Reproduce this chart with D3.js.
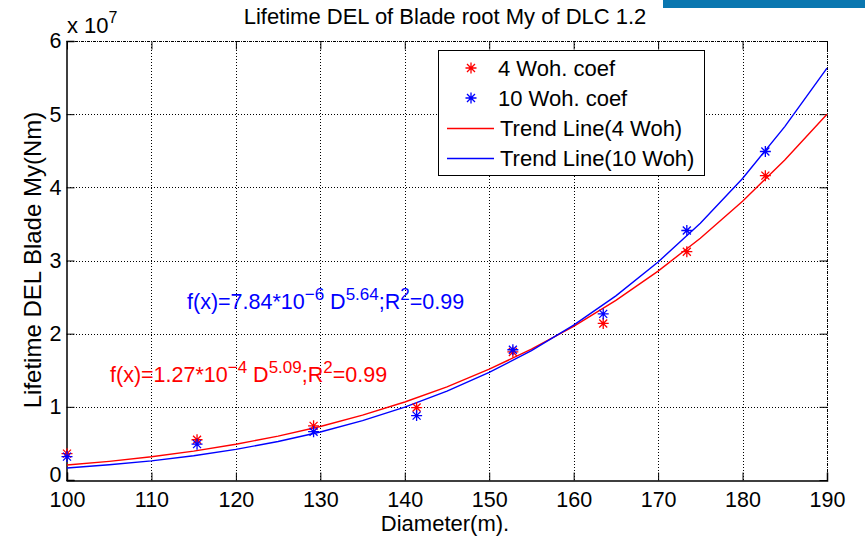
<html>
<head>
<style>
  body { margin: 0; background: #fff; }
  svg { font-family: "Liberation Sans", Arial, sans-serif; }
</style>
</head>
<body>
<svg id="chart" width="865" height="538"></svg>
<script src="https://cdn.jsdelivr.net/npm/d3@7"></script>
<script>
// measured points (Nm)
const diam = [100, 115.4, 129.2, 141.4, 152.8, 163.5, 173.4, 182.7]
const woh4 = [3.6e6, 5.5e6, 7.4e6, 9.9e6, 1.75e7, 2.14e7, 3.12e7, 4.16e7]
const woh10 = [3.2e6, 4.9e6, 6.6e6, 8.8e6, 1.78e7, 2.27e7, 3.41e7, 4.49e7]

// trend lines as drawn (polyline, every 5 m)
const trendD = [100, 105, 110, 115, 120, 125, 130, 135, 140, 145, 150, 155, 160, 165, 170, 175, 180, 185, 190]
const trend4 = [2.05e6, 2.55e6, 3.17e6, 3.94e6, 4.88e6, 6.0e6, 7.31e6, 8.86e6, 1.066e7, 1.274e7, 1.514e7,
                1.788e7, 2.10e7, 2.455e7, 2.855e7, 3.305e7, 3.81e7, 4.375e7, 5.0e7]
const trend10 = [1.65e6, 2.08e6, 2.62e6, 3.32e6, 4.19e6, 5.26e6, 6.56e6, 8.12e6, 9.97e6, 1.215e7, 1.470e7,
                 1.769e7, 2.116e7, 2.517e7, 2.98e7, 3.51e7, 4.12e7, 4.83e7, 5.63e7]

const xTicks = [100, 110, 120, 130, 140, 150, 160, 170, 180, 190]
const yTicks = [0, 1e7, 2e7, 3e7, 4e7, 5e7, 6e7]

const pLeft = 67, pRight = 827, pTop = 41, pBottom = 480
const fs = 22

let svg = d3.select("#chart")

let x = d3.scaleLinear().domain([100, 190]).range([pLeft, pRight])
let y = d3.scaleLinear().domain([0, 6e7]).range([pBottom, pTop])

// blue strip top right
svg.append("rect").attr("x", 663).attr("y", 0).attr("width", 202).attr("height", 8).attr("fill", "#0a77b0")

// grid
let grid = svg.append("g").attr("stroke", "#000").attr("stroke-width", 1).attr("stroke-dasharray", "1,2")
grid.selectAll(".gx").data(xTicks.slice(1)).enter().append("line")
  .attr("x1", d => Math.round(x(d)) + 0.5).attr("x2", d => Math.round(x(d)) + 0.5)
  .attr("y1", pTop).attr("y2", pBottom)
grid.selectAll(".gy").data(yTicks.slice(1)).enter().append("line")
  .attr("y1", d => Math.round(y(d)) + 0.5).attr("y2", d => Math.round(y(d)) + 0.5)
  .attr("x1", pLeft).attr("x2", pRight)

// axes
let xAxis = d3.axisBottom(x).tickValues(xTicks).tickSize(-8).tickPadding(11).tickFormat(d3.format("d"))
let yAxis = d3.axisLeft(y).tickValues(yTicks).tickSize(-8).tickPadding(5).tickFormat(d => d / 1e7)

let gx = svg.append("g").attr("transform", `translate(0,${pBottom + 0.5})`).call(xAxis)
let gy = svg.append("g").attr("transform", `translate(${pLeft - 0.5},0)`).call(yAxis)
for (let g of [gx, gy]) {
  g.select(".domain").attr("stroke", "#000").attr("stroke-width", 1.5)
  g.selectAll("text").attr("font-size", 21.5).attr("fill", "#000").attr("font-family", "Liberation Sans, Arial")
  g.selectAll(".tick line").attr("stroke", "#000")
}
// lift the "0" a little so it clears the x labels
gy.selectAll(".tick text").filter(d => d === 0).attr("y", -5)

// top / right ticks
svg.append("g").attr("transform", `translate(0,${pTop + 0.5})`)
  .call(d3.axisTop(x).tickValues(xTicks).tickSize(-8).tickFormat(""))
  .call(g => g.select(".domain").remove())
svg.append("g").attr("transform", `translate(${pRight + 0.5},0)`)
  .call(d3.axisRight(y).tickValues(yTicks).tickSize(-8).tickFormat(""))
  .call(g => g.select(".domain").remove())
svg.append("line").attr("x1", pLeft).attr("x2", pRight).attr("y1", pTop + 0.5).attr("y2", pTop + 0.5)
  .attr("stroke", "#000").attr("stroke-dasharray", "1,1")
svg.append("line").attr("x1", pRight + 0.5).attr("x2", pRight + 0.5).attr("y1", pTop).attr("y2", pBottom)
  .attr("stroke", "#000").attr("stroke-dasharray", "1,1")

// trend lines
let line = d3.line().x((d, i) => x(trendD[i])).y(d => y(d))
svg.append("path").attr("d", line(trend4)).attr("fill", "none").attr("stroke", "#ff0000").attr("stroke-width", 1.4)
svg.append("path").attr("d", line(trend10)).attr("fill", "none").attr("stroke", "#0000ff").attr("stroke-width", 1.4)

// asterisk markers
function star(g, cx, cy, color) {
  let r = 5.5, d = 4
  let p = `M${cx - r},${cy}H${cx + r}M${cx},${cy - r}V${cy + r}` +
          `M${cx - d},${cy - d}L${cx + d},${cy + d}M${cx - d},${cy + d}L${cx + d},${cy - d}`
  g.append("path").attr("d", p).attr("stroke", color).attr("stroke-width", 1.3).attr("fill", "none")
}
let marks = svg.append("g")
diam.forEach((d, i) => star(marks, x(d), y(woh4[i]), "#ff0000"))
diam.forEach((d, i) => star(marks, x(d), y(woh10[i]), "#0000ff"))

// legend
let lg = svg.append("g")
lg.append("rect").attr("x", 438.5).attr("y", 50.5).attr("width", 266).attr("height", 125)
  .attr("fill", "#fff").attr("stroke", "#000").attr("stroke-width", 1)
const legendNames = ["4 Woh. coef", "10 Woh. coef", "Trend Line(4 Woh)", "Trend Line(10 Woh)"]
const legendColors = ["#ff0000", "#0000ff", "#ff0000", "#0000ff"]
legendNames.forEach((name, i) => {
  let cy = 68 + i * 30
  if (i < 2) star(lg, 471, cy, legendColors[i])
  else lg.append("line").attr("x1", 447).attr("x2", 494).attr("y1", cy + 0.5).attr("y2", cy + 0.5)
    .attr("stroke", legendColors[i]).attr("stroke-width", 1.3)
  lg.append("text").attr("x", i < 2 ? 498 : 500).attr("y", cy + 8).attr("font-size", fs).text(name)
})

// title and labels
svg.append("text").attr("x", 445).attr("y", 24).attr("text-anchor", "middle").attr("font-size", fs)
  .text("Lifetime DEL of Blade root My of DLC 1.2")
svg.append("text").attr("x", 445).attr("y", 531).attr("text-anchor", "middle").attr("font-size", fs)
  .text("Diameter(m).")
svg.append("text").attr("transform", `translate(41,260) rotate(-90)`)
  .attr("text-anchor", "middle").attr("font-size", 24).text("Lifetime DEL Blade My(Nm)")

let ex = svg.append("text").attr("x", 67).attr("y", 33).attr("font-size", fs)
ex.append("tspan").text("x 10")
ex.append("tspan").attr("dy", -10).attr("font-size", 16).text("7")

// fit annotations
function sup(t, base, s) {
  t.append("tspan").attr("dy", -9).attr("font-size", 17).text(s)
  t.append("tspan").attr("dy", 9).text(base)
}
let tb = svg.append("text").attr("x", 187).attr("y", 309).attr("font-size", 21.5).attr("fill", "#0000ff")
tb.append("tspan").text("f(x)=7.84*10")
sup(tb, " D", "\u22126")
sup(tb, ";R", "5.64")
sup(tb, "=0.99", "2")

let tr = svg.append("text").attr("x", 110).attr("y", 382).attr("font-size", 21.5).attr("fill", "#ff0000")
tr.append("tspan").text("f(x)=1.27*10")
sup(tr, " D", "\u22124")
sup(tr, ";R", "5.09")
sup(tr, "=0.99", "2")
</script>
</body>
</html>
